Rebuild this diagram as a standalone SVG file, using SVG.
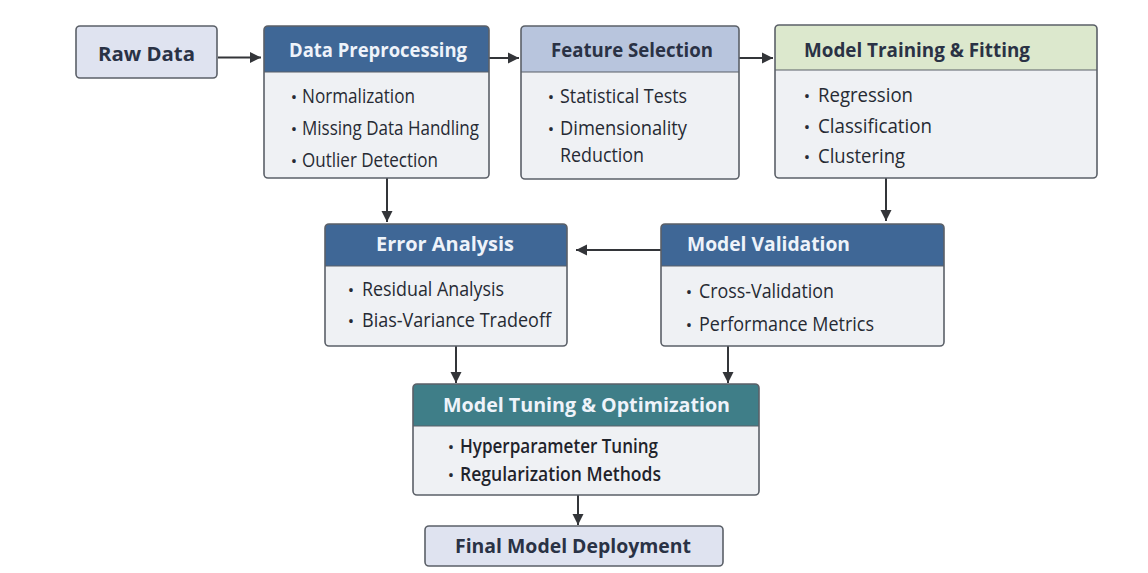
<svg xmlns="http://www.w3.org/2000/svg" width="1148" height="573" viewBox="0 0 1148 573">
<style>
.box{fill:none;stroke:#5b6068;stroke-width:1.6}
.body{fill:#eff1f4}
.plain{fill:#dfe3f0}
.hb{fill:#3f6796}
.ht{fill:#3f7e88}
.hf{fill:#b8c5dd}
.hg{fill:#dce8cd}
.sep{stroke:#5b6068;stroke-width:1.2}
.tw{font-family:"Open Sans","Liberation Sans",sans-serif;font-weight:700;font-size:19.5px;fill:#eef3fa}
.td{font-family:"Open Sans","Liberation Sans",sans-serif;font-weight:700;font-size:19.5px;fill:#2a3245}
.b{font-family:"Open Sans","Liberation Sans",sans-serif;font-size:19.5px;font-weight:500;fill:#262a33}
.bb{font-family:"Open Sans","Liberation Sans",sans-serif;font-size:20px;font-weight:600;fill:#1f232b}
.dot{font-family:"Open Sans","Liberation Sans",sans-serif;font-size:17px;fill:#262a33;text-anchor:middle}
.con{stroke:#333539;stroke-width:2;fill:none}
</style>
<defs>
<marker id="ah" markerWidth="12" markerHeight="12" refX="11" refY="6" orient="auto" markerUnits="userSpaceOnUse">
<path d="M0,0.5 L11,6 L0,11.5 Z" fill="#333539"/>
</marker>
</defs>
<rect width="1148" height="573" fill="#ffffff"/>

<g id="connectors">
<line class="con" x1="218" y1="57.5" x2="261" y2="57.5" marker-end="url(#ah)"/>
<line class="con" x1="489" y1="58" x2="519" y2="58" marker-end="url(#ah)"/>
<line class="con" x1="739" y1="58" x2="773" y2="58" marker-end="url(#ah)"/>
<line class="con" x1="387" y1="178" x2="387" y2="222" marker-end="url(#ah)"/>
<line class="con" x1="886" y1="178" x2="886" y2="221" marker-end="url(#ah)"/>
<line class="con" x1="661" y1="250" x2="576" y2="250" marker-end="url(#ah)"/>
<line class="con" x1="456" y1="346" x2="456" y2="383" marker-end="url(#ah)"/>
<line class="con" x1="728" y1="346" x2="728" y2="383" marker-end="url(#ah)"/>
<line class="con" x1="578" y1="495" x2="578" y2="525" marker-end="url(#ah)"/>
</g>

<g id="raw-data">
<rect class="plain" x="76" y="26" width="141" height="52" rx="4"/>
<rect class="box" x="76" y="26" width="141" height="52" rx="4"/>
<text class="td" x="98" y="61" textLength="97" lengthAdjust="spacingAndGlyphs">Raw Data</text>
</g>

<g id="data-preprocessing">
<rect class="body" x="264" y="26" width="225" height="152" rx="4"/>
<path class="hb" d="M264,72 V30 Q264,26 268,26 H485 Q489,26 489,30 V72 Z"/>
<line class="sep" x1="264" y1="72" x2="489" y2="72"/>
<rect class="box" x="264" y="26" width="225" height="152" rx="4"/>
<text class="tw" x="289" y="57" textLength="178" lengthAdjust="spacingAndGlyphs">Data Preprocessing</text>
<text class="dot" x="294" y="103">•</text><text class="b" x="302" y="103" textLength="113" lengthAdjust="spacingAndGlyphs">Normalization</text>
<text class="dot" x="294" y="135">•</text><text class="b" x="302" y="135" textLength="177" lengthAdjust="spacingAndGlyphs">Missing Data Handling</text>
<text class="dot" x="294" y="166.5">•</text><text class="b" x="302" y="166.5" textLength="136" lengthAdjust="spacingAndGlyphs">Outlier Detection</text>
</g>

<g id="feature-selection">
<rect class="body" x="521" y="26" width="218" height="153" rx="4"/>
<path class="hf" d="M521,72 V30 Q521,26 525,26 H735 Q739,26 739,30 V72 Z"/>
<line class="sep" x1="521" y1="72" x2="739" y2="72"/>
<rect class="box" x="521" y="26" width="218" height="153" rx="4"/>
<text class="td" x="551" y="56.5" textLength="162" lengthAdjust="spacingAndGlyphs">Feature Selection</text>
<text class="dot" x="551" y="103">•</text><text class="b" x="560" y="103" textLength="127" lengthAdjust="spacingAndGlyphs">Statistical Tests</text>
<text class="dot" x="551" y="135">•</text><text class="b" x="560" y="135" textLength="127" lengthAdjust="spacingAndGlyphs">Dimensionality</text>
<text class="b" x="560" y="161.5" textLength="84" lengthAdjust="spacingAndGlyphs">Reduction</text>
</g>

<g id="model-training">
<rect class="body" x="775" y="25" width="322" height="153" rx="4"/>
<path class="hg" d="M775,70 V29 Q775,25 779,25 H1093 Q1097,25 1097,29 V70 Z"/>
<line class="sep" x1="775" y1="70" x2="1097" y2="70"/>
<rect class="box" x="775" y="25" width="322" height="153" rx="4"/>
<text class="td" x="804" y="56.5" textLength="226" lengthAdjust="spacingAndGlyphs">Model Training &amp; Fitting</text>
<text class="dot" x="807" y="102">•</text><text class="b" x="818" y="102" textLength="95" lengthAdjust="spacingAndGlyphs">Regression</text>
<text class="dot" x="807" y="133">•</text><text class="b" x="818" y="133" textLength="114" lengthAdjust="spacingAndGlyphs">Classification</text>
<text class="dot" x="807" y="162.5">•</text><text class="b" x="818" y="162.5" textLength="87" lengthAdjust="spacingAndGlyphs">Clustering</text>
</g>

<g id="error-analysis">
<rect class="body" x="325" y="224" width="242" height="122" rx="4"/>
<path class="hb" d="M325,266 V228 Q325,224 329,224 H563 Q567,224 567,228 V266 Z"/>
<line class="sep" x1="325" y1="266" x2="567" y2="266"/>
<rect class="box" x="325" y="224" width="242" height="122" rx="4"/>
<text class="tw" x="376" y="251" textLength="138" lengthAdjust="spacingAndGlyphs">Error Analysis</text>
<text class="dot" x="351" y="296">•</text><text class="b" x="362" y="296" textLength="142" lengthAdjust="spacingAndGlyphs">Residual Analysis</text>
<text class="dot" x="351" y="327">•</text><text class="b" x="362" y="327" textLength="189" lengthAdjust="spacingAndGlyphs">Bias-Variance Tradeoff</text>
</g>

<g id="model-validation">
<rect class="body" x="661" y="224" width="283" height="122" rx="4"/>
<path class="hb" d="M661,266 V228 Q661,224 665,224 H940 Q944,224 944,228 V266 Z"/>
<line class="sep" x1="661" y1="266" x2="944" y2="266"/>
<rect class="box" x="661" y="224" width="283" height="122" rx="4"/>
<text class="tw" x="687" y="251" textLength="163" lengthAdjust="spacingAndGlyphs">Model Validation</text>
<text class="dot" x="689" y="298">•</text><text class="b" x="699" y="298" textLength="135" lengthAdjust="spacingAndGlyphs">Cross-Validation</text>
<text class="dot" x="689" y="330.5">•</text><text class="b" x="699" y="330.5" textLength="175" lengthAdjust="spacingAndGlyphs">Performance Metrics</text>
</g>

<g id="model-tuning">
<rect class="body" x="413" y="384" width="346" height="111" rx="4"/>
<path class="ht" d="M413,426 V388 Q413,384 417,384 H755 Q759,384 759,388 V426 Z"/>
<line class="sep" x1="413" y1="426" x2="759" y2="426"/>
<rect class="box" x="413" y="384" width="346" height="111" rx="4"/>
<text class="tw" x="443" y="411.5" textLength="287" lengthAdjust="spacingAndGlyphs">Model Tuning &amp; Optimization</text>
<text class="dot" x="451" y="453">•</text><text class="bb" x="460" y="453" textLength="198" lengthAdjust="spacingAndGlyphs">Hyperparameter Tuning</text>
<text class="dot" x="451" y="481">•</text><text class="bb" x="460" y="481" textLength="201" lengthAdjust="spacingAndGlyphs">Regularization Methods</text>
</g>

<g id="final-deployment">
<rect class="plain" x="425" y="526" width="298" height="40" rx="4"/>
<rect class="box" x="425" y="526" width="298" height="40" rx="4"/>
<text class="td" x="455" y="553" textLength="236" lengthAdjust="spacingAndGlyphs">Final Model Deployment</text>
</g>
</svg>
